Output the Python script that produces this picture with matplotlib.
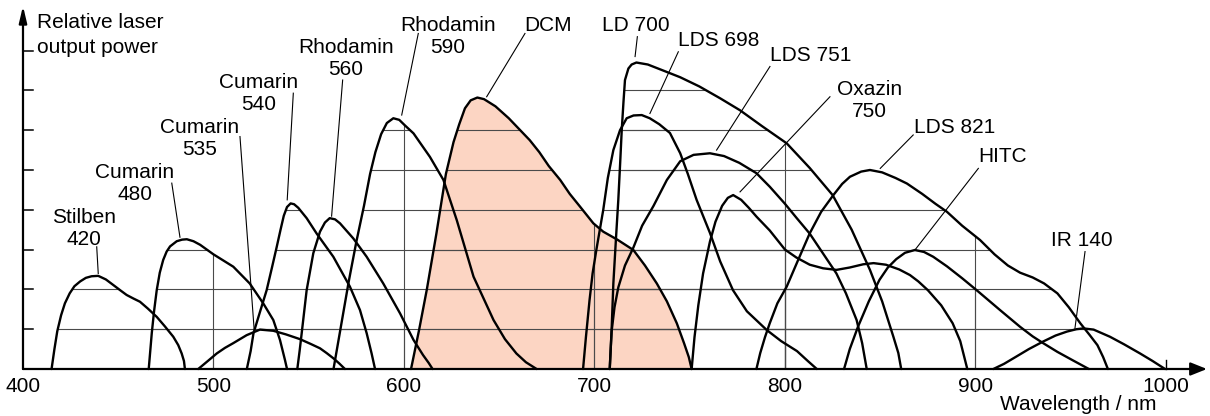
import numpy as np
import matplotlib.pyplot as plt
from matplotlib.patches import Polygon

plt.rcParams['font.family'] = ['Liberation Sans', 'DejaVu Sans']

# wavelength (nm) / relative output power (tick units)
stilben420_nm = [415, 416.5, 418, 420, 422, 424.5, 427, 430, 433, 436, 439.5, 443.5, 447.4, 451, 454.4, 458, 461.4, 465.5, 470.2, 474.5, 478.9, 481.5, 483.3, 484.5, 485]
stilben420_p = [0, 0.5, 0.95, 1.35, 1.65, 1.9, 2.08, 2.2, 2.29, 2.33, 2.34, 2.25, 2.11, 1.98, 1.86, 1.77, 1.69, 1.52, 1.31, 1.07, 0.81, 0.6, 0.39, 0.2, 0]

cumarin480_nm = [466, 466.8, 467.6, 468.8, 470.2, 471.8, 473.6, 475.4, 477.2, 480.7, 483.5, 486, 489.5, 493, 500, 510.4, 519, 526.1, 531.4, 534.9, 537.5, 538.6]
cumarin480_p = [0, 0.45, 0.9, 1.45, 1.98, 2.42, 2.74, 2.95, 3.08, 3.21, 3.25, 3.26, 3.21, 3.12, 2.88, 2.57, 2.15, 1.65, 1.23, 0.73, 0.23, 0]

cumarin535_nm = [492, 497, 501.7, 506, 510.4, 517.4, 524.4, 531.4, 538, 545.4, 551, 555.9, 559.4, 562.9, 566, 569]
cumarin535_p = [0, 0.2, 0.39, 0.53, 0.65, 0.85, 0.99, 0.96, 0.87, 0.75, 0.63, 0.52, 0.4, 0.27, 0.14, 0]

cumarin540_nm = [517.5, 519.5, 521, 524.5, 527.9, 530.7, 533.2, 535.2, 536.9, 538.6, 540.5, 542.3, 544.5, 548.9, 554.2, 562.9, 571.6, 576.9, 580.4, 583, 584.8]
cumarin540_p = [0, 0.45, 0.9, 1.45, 1.98, 2.55, 3.07, 3.5, 3.85, 4.07, 4.16, 4.14, 4.05, 3.79, 3.4, 2.82, 2.07, 1.48, 0.9, 0.39, 0]

rhodamin560_nm = [544, 545.2, 546.3, 548.9, 552.4, 555.9, 558.5, 561, 563.8, 566.4, 573.4, 580.4, 589.1, 597.9, 605, 610, 613, 615]
rhodamin560_p = [0, 0.45, 0.9, 1.98, 2.91, 3.45, 3.68, 3.79, 3.76, 3.66, 3.28, 2.82, 2.15, 1.4, 0.73, 0.35, 0.15, 0]

rhodamin590_nm = [563, 567, 571, 575, 579, 582.2, 585, 588, 591, 594.4, 597.5, 600.5, 605, 613.6, 620.7, 627.7, 636.5, 647, 653, 659, 664, 669.6]
rhodamin590_p = [0, 1.1, 2.2, 3.2, 4.1, 4.9, 5.45, 5.9, 6.18, 6.3, 6.26, 6.12, 5.92, 5.33, 4.75, 3.74, 2.32, 1.23, 0.75, 0.39, 0.17, 0]

dcm_nm = [603.7, 608, 612, 617, 622, 626, 629, 632, 635, 638.5, 642, 648, 655, 661, 666, 671, 676, 682, 687, 692.4, 699.4, 704.6, 712, 720.4, 726.5, 732.7, 738, 743.2, 747, 749.5, 751]
dcm_p = [0, 1.0, 2.0, 3.4, 4.9, 5.7, 6.15, 6.55, 6.75, 6.82, 6.78, 6.6, 6.3, 6.0, 5.75, 5.45, 5.1, 4.75, 4.4, 4.08, 3.66, 3.45, 3.25, 2.99, 2.6, 2.15, 1.7, 1.15, 0.65, 0.3, 0]

ld700_nm = [708, 709, 709.9, 711.3, 712.5, 713.5, 714.3, 715.2, 716, 717.8, 719.5, 722, 728, 736, 745, 755, 766, 776.4, 788, 800.9, 813, 825, 835, 844.6, 851, 856.9, 859.5, 861]
ld700_p = [0, 1.0, 2.15, 3.3, 4.25, 5.2, 6.0, 6.7, 7.26, 7.55, 7.65, 7.7, 7.65, 7.5, 7.33, 7.1, 6.8, 6.5, 6.1, 5.67, 5.05, 4.37, 3.5, 2.49, 1.7, 0.81, 0.4, 0]

lds698_nm = [694, 695.5, 697.4, 699, 701, 704.6, 707, 709.9, 713.4, 716.9, 720.5, 724.8, 729, 734, 739.6, 745, 749, 753.6, 760.6, 766, 772.7, 780, 790.4, 798, 806.3, 812, 816.7]
lds698_p = [0, 0.8, 1.73, 2.4, 3.0, 4.0, 4.8, 5.5, 6.0, 6.3, 6.37, 6.38, 6.3, 6.15, 5.93, 5.42, 4.9, 4.25, 3.42, 2.7, 1.98, 1.45, 0.98, 0.7, 0.45, 0.2, 0]

lds751_nm = [708, 708.5, 709, 710.5, 712.5, 716, 720.4, 725, 731, 738, 745, 752, 760.6, 768, 776, 785, 792, 800, 806, 813, 820, 827, 832, 837.6, 840.5, 842.9]
lds751_p = [0, 0.5, 0.95, 1.55, 2.05, 2.6, 3.05, 3.6, 4.1, 4.75, 5.22, 5.38, 5.42, 5.35, 5.18, 4.92, 4.58, 4.15, 3.8, 3.4, 2.9, 2.4, 1.9, 1.23, 0.65, 0]

oxazin750_nm = [751, 752.5, 754.5, 757, 760.6, 763.5, 767, 770, 772.8, 777, 781, 785, 792, 800, 806, 813, 820, 827, 834, 841, 846.5, 853, 860, 865.6, 870, 875, 882, 888, 892, 895.7]
oxazin750_p = [0, 0.8, 1.6, 2.4, 3.2, 3.7, 4.1, 4.3, 4.37, 4.25, 4.05, 3.83, 3.48, 3.0, 2.8, 2.62, 2.53, 2.49, 2.55, 2.63, 2.66, 2.62, 2.5, 2.36, 2.2, 1.98, 1.6, 1.15, 0.7, 0]

lds821_nm = [785, 787, 789.5, 792, 796, 800.9, 807, 813, 819, 825.4, 830, 834.1, 840, 844.6, 851, 858, 864, 872, 879, 885, 893, 902.4, 910, 917, 923.4, 930, 936, 943, 949, 955, 960, 964, 967, 969.5]
lds821_p = [0, 0.4, 0.8, 1.15, 1.65, 2.07, 2.75, 3.41, 3.95, 4.37, 4.65, 4.83, 4.96, 5.0, 4.94, 4.8, 4.66, 4.4, 4.15, 3.95, 3.6, 3.24, 2.88, 2.6, 2.42, 2.3, 2.15, 1.9, 1.55, 1.15, 0.85, 0.6, 0.3, 0]

hitc_nm = [831, 834, 838.3, 844, 849.6, 854, 858.4, 863, 868.2, 873, 877.8, 885, 893, 900.6, 907, 912.9, 923.4, 930, 935.5, 943, 951, 959.5]
hitc_p = [0, 0.5, 1.06, 1.7, 2.24, 2.55, 2.76, 2.92, 2.99, 2.94, 2.82, 2.58, 2.28, 1.98, 1.72, 1.48, 1.06, 0.82, 0.65, 0.43, 0.22, 0]

ir140_nm = [909.4, 915, 921, 928, 935.5, 942, 948, 953, 956.6, 962, 970.6, 978, 986.4, 993, 999.5]
ir140_p = [0, 0.13, 0.3, 0.5, 0.69, 0.84, 0.94, 1.0, 1.02, 0.99, 0.81, 0.62, 0.39, 0.2, 0]

dyes = [
    (stilben420_nm, stilben420_p), (cumarin480_nm, cumarin480_p), (cumarin535_nm, cumarin535_p),
    (cumarin540_nm, cumarin540_p), (rhodamin560_nm, rhodamin560_p), (rhodamin590_nm, rhodamin590_p),
    (dcm_nm, dcm_p), (ld700_nm, ld700_p), (lds698_nm, lds698_p), (lds751_nm, lds751_p),
    (oxazin750_nm, oxazin750_p), (lds821_nm, lds821_p), (hitc_nm, hitc_p), (ir140_nm, ir140_p),
]

x_ticks = [400, 500, 600, 700, 800, 900, 1000]
grid_wl = [500, 600, 700, 800, 900]
grid_levels = [1, 2, 3, 4, 5, 6, 7, 8]

# label text, text x, first baseline, pointer start, pointer end
labels = [
    ('Stilben\n420', 432.0, 3.68, (438.7, 3.07), (439.5, 2.40)),
    ('Cumarin\n480', 458.8, 4.81, (478.1, 4.67), (482.4, 3.31)),
    ('Cumarin\n535', 492.8, 5.94, (513.9, 5.84), (521.3, 1.02)),
    ('Cumarin\n540', 523.5, 7.07, (541.9, 6.93), (538.7, 4.25)),
    ('Rhodamin\n560', 569.5, 7.95, (567.8, 7.26), (562.0, 3.84)),
    ('Rhodamin\n590', 623.0, 8.50, (607.5, 8.43), (598.8, 6.38)),
    ('DCM', 675.7, 8.50, (663.5, 8.43), (643.4, 6.84)),
    ('LD 700', 721.5, 8.50, (722.5, 8.35), (721.3, 7.85)),
    ('LDS 698', 765.0, 8.12, (744.0, 7.97), (729.1, 6.42)),
    ('LDS 751', 813.5, 7.74, (792.1, 7.60), (764.1, 5.50)),
    ('Oxazin\n750', 844.4, 6.89, (823.6, 6.84), (776.4, 4.45)),
    ('LDS 821', 888.8, 5.94, (867.3, 5.88), (850.0, 5.04)),
    ('HITC', 914.3, 5.19, (901.5, 5.04), (868.2, 2.99)),
    ('IR 140', 956.0, 3.09, (957.5, 2.95), (952.2, 1.02)),
]

fig = plt.figure(figsize=(12.1, 4.16), dpi=100)
ax = fig.add_axes([0, 0, 1, 1])
ax.set_xlim(387.93, 1023.1)
ax.set_ylim(-1.181, 9.271)
ax.axis('off')

grid_col = '#4a4a4a'
fs = 15

# DCM shaded
ax.fill(dcm_nm, dcm_p, color='#fcd5c3', lw=0, zorder=1)

# grid only inside the curves
for nm, p in dyes:
    clip = Polygon(np.column_stack([nm, p]), closed=True, fc='none', ec='none')
    ax.add_patch(clip)
    for lev in grid_levels:
        ln, = ax.plot([400, 1000], [lev, lev], color=grid_col, lw=0.8, zorder=2)
        ln.set_clip_path(clip)
    for wl in grid_wl:
        ln, = ax.plot([wl, wl], [0, 9], color=grid_col, lw=0.8, zorder=2)
        ln.set_clip_path(clip)

for nm, p in dyes:
    ax.plot(nm, p, color='k', lw=1.7, solid_joinstyle='round', solid_capstyle='round', zorder=3)

# axes with arrows
ax.annotate('', xy=(1021.5, 0), xytext=(400, 0),
            arrowprops=dict(arrowstyle='-|>,head_length=0.55,head_width=0.22', mutation_scale=18,
                            lw=1.6, color='k', shrinkA=0, shrinkB=0), zorder=4)
ax.annotate('', xy=(400, 9.12), xytext=(400, 0),
            arrowprops=dict(arrowstyle='-|>,head_length=0.55,head_width=0.13', mutation_scale=18,
                            lw=1.6, color='k', shrinkA=0, shrinkB=0), zorder=4)
for lev in grid_levels:
    ax.plot([400, 405.3], [lev, lev], color='k', lw=1.1, zorder=4)
ax.plot([1000, 1000], [0, 0.22], color='k', lw=1.0, zorder=4)

for wl in x_ticks:
    ax.text(wl, -0.57, str(wl), ha='center', va='baseline', fontsize=fs)
ax.text(954.0, -1.04, 'Wavelength / nm', ha='center', va='baseline', fontsize=fs)
ax.text(407.3, 8.57, 'Relative laser', ha='left', va='baseline', fontsize=fs)
ax.text(407.3, 7.93, 'output power', ha='left', va='baseline', fontsize=fs)

line_gap = 0.553
for txt, tx, ty, p0, p1 in labels:
    for i, part in enumerate(txt.split('\n')):
        ax.text(tx, ty - i * line_gap, part, ha='center', va='baseline', fontsize=fs)
    ax.plot([p0[0], p1[0]], [p0[1], p1[1]], color='k', lw=0.8, zorder=4)

fig.savefig('out.png', dpi=100)
